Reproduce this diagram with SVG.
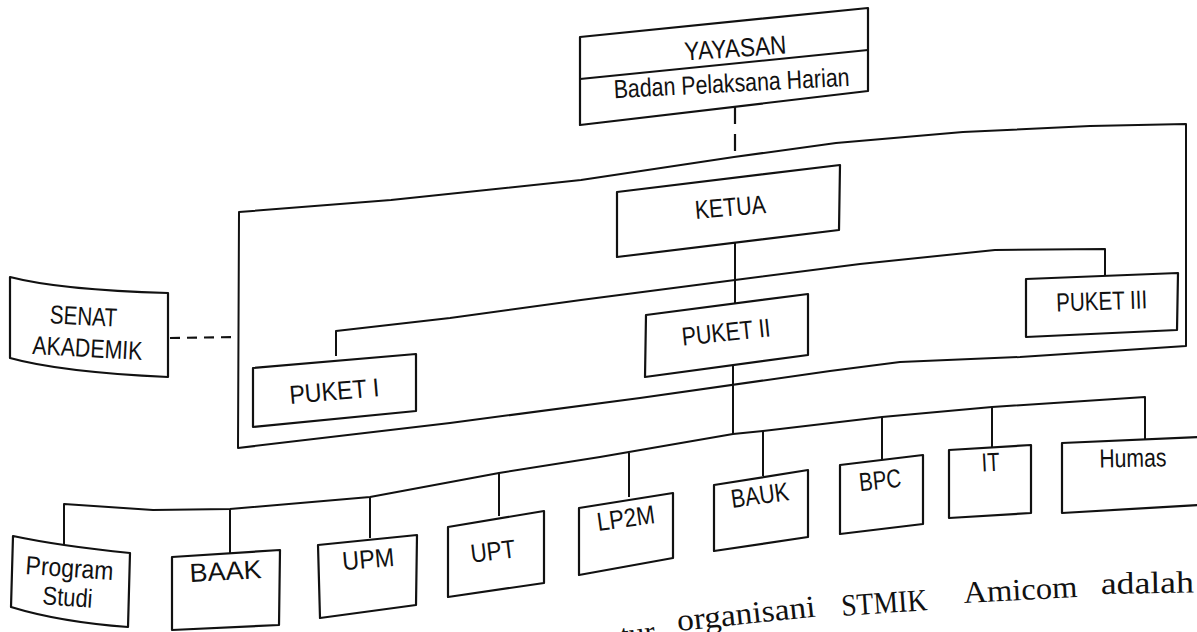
<svg xmlns="http://www.w3.org/2000/svg" width="1197" height="632" viewBox="0 0 1197 632">
<style>
.box{fill:#fff;stroke:#111;stroke-width:2.2;stroke-linejoin:round}
.ln{fill:none;stroke:#111;stroke-width:2;stroke-linejoin:round}
.dash{fill:none;stroke:#111;stroke-width:2.2}
.t{font-family:"Liberation Sans",Arial,sans-serif;font-size:26px;fill:#111;text-anchor:middle}
.p{font-family:"Liberation Serif","Times New Roman",serif;font-size:31px;fill:#111}
</style>
<rect width="1197" height="632" fill="#fff"/>
<g id="enclosure">
<path class="ln" d="M239,212 L391,200 L581,180 L734,157 L836,143 L963,132 L1090,126 L1186,124 L1186,346 L1020,357 L900,362 L830,371 L640,398 L450,423 L238,448 Z"/>
</g>
<g id="connectors">
<path class="dash" d="M735,107 L735,152" stroke-dasharray="17,10"/>
<path class="dash" d="M170,338 L238,337" stroke-dasharray="10,7"/>
<path class="ln" d="M735,243 L735,304"/>
<path class="ln" d="M336,356 L336,331 L450,318 L581,300 L735,280 L860,264 L995,250 L1105,249 L1105,275"/>
<path class="ln" d="M733,365 L733,434"/>
<path class="ln" d="M64,545 L64,504 L153,510 L230,509 L370,497 L499,473 L600,457 L733,434 L763,431 L882,417 L992,407 L1145,397 L1145,440"/>
<path class="ln" d="M230,509 L230,553 M370,497 L370,538 M499,473 L499,516 M629,453 L629,497 M763,431 L763,476 M882,417 L882,459 M992,407 L992,447"/>
</g>
<g id="yayasan">
<path class="box" d="M580,37 L868,8 L868,91 L580,125 Z"/>
<path class="ln" d="M580,79 L868,50"/>
<text class="t" font-size="27" transform="translate(736,57) rotate(-4)" textLength="102" lengthAdjust="spacingAndGlyphs">YAYASAN</text>
<text class="t" font-size="25" transform="translate(732,92) rotate(-3)" textLength="236" lengthAdjust="spacingAndGlyphs">Badan Pelaksana Harian</text>
</g>
<g id="ketua">
<path class="box" d="M617,192 L840,165 L839,230 L617,257 Z"/>
<text class="t" transform="translate(731,216) rotate(-5)" textLength="71" lengthAdjust="spacingAndGlyphs">KETUA</text>
</g>
<g id="senat">
<path class="box" d="M10,277 Q60,290 168,293 L168,377 Q60,372 10,358 Z"/>
<text class="t" transform="translate(83,325) rotate(3)" textLength="67" lengthAdjust="spacingAndGlyphs">SENAT</text>
<text class="t" transform="translate(87,357) rotate(3)" textLength="110" lengthAdjust="spacingAndGlyphs">AKADEMIK</text>
</g>
<g id="puket1">
<path class="box" d="M253,368 L416,354 L416,411 L253,427 Z"/>
<text class="t" transform="translate(335,400) rotate(-5)" textLength="90" lengthAdjust="spacingAndGlyphs">PUKET I</text>
</g>
<g id="puket2">
<path class="box" d="M646,315 L808,294 L808,355 L645,377 Z"/>
<text class="t" transform="translate(727,341) rotate(-6)" textLength="89" lengthAdjust="spacingAndGlyphs">PUKET II</text>
</g>
<g id="puket3">
<path class="box" d="M1026,279 L1178,273 L1177,330 L1026,337 Z"/>
<text class="t" transform="translate(1102,310) rotate(-2)" textLength="91" lengthAdjust="spacingAndGlyphs">PUKET III</text>
</g>
<g id="prodi">
<path class="box" d="M13,536 Q60,546 130,553 L128,627 Q60,622 11,607 Z"/>
<text class="t" transform="translate(69,577) rotate(4)" textLength="88" lengthAdjust="spacingAndGlyphs">Program</text>
<text class="t" transform="translate(67,606) rotate(4)" textLength="50" lengthAdjust="spacingAndGlyphs">Studi</text>
</g>
<g id="baak">
<path class="box" d="M172,557 L280,550 L279,625 L172,630 Z"/>
<text class="t" transform="translate(226,580) rotate(-3)" textLength="72" lengthAdjust="spacingAndGlyphs">BAAK</text>
</g>
<g id="upm">
<path class="box" d="M318,545 L417,535 L416,605 L320,618 Z"/>
<text class="t" transform="translate(369,568) rotate(-5)" textLength="52" lengthAdjust="spacingAndGlyphs">UPM</text>
</g>
<g id="upt">
<path class="box" d="M448,527 L544,511 L544,583 L448,597 Z"/>
<text class="t" transform="translate(494,560) rotate(-7)" textLength="45" lengthAdjust="spacingAndGlyphs">UPT</text>
</g>
<g id="lp2m">
<path class="box" d="M579,508 L673,493 L673,558 L579,575 Z"/>
<text class="t" transform="translate(627,527) rotate(-8)" textLength="58" lengthAdjust="spacingAndGlyphs">LP2M</text>
</g>
<g id="bauk">
<path class="box" d="M714,485 L808,470 L808,537 L714,551 Z"/>
<text class="t" transform="translate(761,504) rotate(-8)" textLength="58" lengthAdjust="spacingAndGlyphs">BAUK</text>
</g>
<g id="bpc">
<path class="box" d="M840,465 L923,455 L923,524 L840,534 Z"/>
<text class="t" transform="translate(881,489) rotate(-6)" textLength="42" lengthAdjust="spacingAndGlyphs">BPC</text>
</g>
<g id="it">
<path class="box" d="M949,450 L1031,445 L1031,513 L949,518 Z"/>
<text class="t" transform="translate(991,471) rotate(-3)" textLength="18" lengthAdjust="spacingAndGlyphs">IT</text>
</g>
<g id="humas">
<path class="box" d="M1062,443 L1200,437 L1200,505 L1062,513 Z"/>
<text class="t" transform="translate(1133,467) rotate(-1)" textLength="67" lengthAdjust="spacingAndGlyphs">Humas</text>
</g>
<g id="caption">
<text class="p" transform="translate(622,646) rotate(-8)">tur</text>
<text class="p" transform="translate(678,631) rotate(-6)" textLength="139" lengthAdjust="spacingAndGlyphs">organisani</text>
<text class="p" transform="translate(842,616) rotate(-4)" textLength="86" lengthAdjust="spacingAndGlyphs">STMIK</text>
<text class="p" transform="translate(964,603) rotate(-3)" textLength="114" lengthAdjust="spacingAndGlyphs">Amicom</text>
<text class="p" transform="translate(1101,594) rotate(-1)" textLength="93" lengthAdjust="spacingAndGlyphs">adalah</text>
</g>
</svg>
